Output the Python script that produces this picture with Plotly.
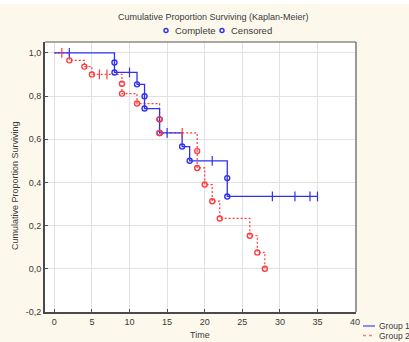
import plotly.graph_objects as go

# ---- data ----
g1_time = [0, 8, 8, 11, 12, 12, 14, 14, 17, 18, 23, 23]
g1_surv = [1.0, 0.955, 0.909, 0.854, 0.799, 0.742, 0.692, 0.629, 0.566, 0.500, 0.420, 0.335]
g1_cens = [2, 10, 15, 21, 29, 32, 34, 35]

g2_time = [0, 2, 4, 5, 9, 9, 11, 14, 14, 19, 19, 20, 21, 22, 26, 27, 28]
g2_surv = [1.0, 0.965, 0.936, 0.900, 0.857, 0.811, 0.765, 0.692, 0.629,
           0.545, 0.467, 0.390, 0.313, 0.233, 0.153, 0.076, 0.0]
g2_cens = [1, 6, 7, 17]

x_ticks = [0, 5, 10, 15, 20, 25, 30, 35, 40]
y_ticks = [-0.2, 0.0, 0.2, 0.4, 0.6, 0.8, 1.0]
y_tick_text = ["-0,2", "0,0", "0,2", "0,4", "0,6", "0,8", "1,0"]

title = "Cumulative Proportion Surviving (Kaplan-Meier)"
x_title = "Time"
y_title = "Cumulative Proportion Surviving"
groups = ["Group 1", "Group 2"]
marker_legend = ["Complete", "Censored"]

BLUE = "#3030f0"
RED = "#ff3b3b"
FONT = "Liberation Sans"
TXT = "#3a3a3a"

W, H = 409, 342
L, R, T, B = 45, 356, 42, 312  # plot area in pixels


def step_value(times, surv, t):
    v = surv[0]
    for ti, si in zip(times, surv):
        if ti <= t:
            v = si
    return v


def px(x):
    return (x - L) / (R - L)


def py(y):
    return (B - y) / (B - T)


fig = go.Figure()

series = [
    (g2_time, g2_surv, g2_cens, RED, "2px,2px"),
    (g1_time, g1_surv, g1_cens, BLUE, "solid"),
]

# step lines (red under blue)
for times, surv, cens, col, dash in series:
    end_t = max(max(cens), max(times))
    fig.add_trace(go.Scatter(
        x=times + [end_t], y=surv + [step_value(times, surv, end_t)],
        mode="lines", line=dict(color=col, width=1.3 if dash == "solid" else 1.2,
                                dash=dash, shape="hv"),
        showlegend=False, hoverinfo="skip"))

# censored ticks and event circles
for times, surv, cens, col, dash in series[::-1]:
    fig.add_trace(go.Scatter(
        x=cens, y=[step_value(times, surv, c) for c in cens],
        mode="markers",
        marker=dict(symbol="line-ns", size=7, line=dict(color=col, width=1.2)),
        showlegend=False, hoverinfo="skip"))
for times, surv, cens, col, dash in series[::-1]:
    fig.add_trace(go.Scatter(
        x=times[1:], y=surv[1:], mode="markers",
        marker=dict(symbol="circle-open", size=5, color=col, line=dict(width=1.4)),
        showlegend=False, hoverinfo="skip"))

shapes = [
    # top white strip of the source page
    dict(type="rect", xref="paper", yref="paper", x0=px(0), x1=px(W),
         y0=py(0), y1=py(4), fillcolor="white", line=dict(width=0), layer="below"),
    # right border (grey, thicker)
    dict(type="line", xref="paper", yref="paper", x0=1, x1=1, y0=0, y1=1,
         line=dict(color="#9a9a9a", width=2)),
    # top border
    dict(type="line", xref="paper", yref="paper", x0=0, x1=1, y0=1, y1=1,
         line=dict(color="#555555", width=1)),
]
annotations = [
    dict(text=title, x=px(213), y=py(17), xref="paper", yref="paper",
         showarrow=False, xanchor="center", yanchor="middle",
         font=dict(family=FONT, size=9, color=TXT)),
    dict(text=y_title, x=px(15), y=py(186), xref="paper", yref="paper",
         showarrow=False, textangle=-90, xanchor="center", yanchor="middle",
         font=dict(family=FONT, size=9, color=TXT)),
    dict(text=x_title, x=px(200), y=py(335), xref="paper", yref="paper",
         showarrow=False, xanchor="center", yanchor="middle",
         font=dict(family=FONT, size=9, color=TXT)),
]

# top legend: Complete / Censored
for (cx, tx), label in zip([(166, 173), (222, 229)], marker_legend):
    shapes.append(dict(type="circle", xref="paper", yref="paper",
                       xsizemode="pixel", ysizemode="pixel",
                       xanchor=px(cx), yanchor=py(30.5),
                       x0=-2, x1=2, y0=-2, y1=2,
                       line=dict(color=BLUE, width=1.4)))
    annotations.append(dict(text=label, x=px(tx), y=py(30.5), xref="paper",
                            yref="paper", showarrow=False, xanchor="left",
                            yanchor="middle",
                            font=dict(family=FONT, size=9.5, color=TXT)))

# bottom-right legend: Group 1 / Group 2
for (yy, col, dash), label in zip([(326, "#6f6ff5", "solid"), (335.5, "#ff7a7a", "dot")], groups):
    shapes.append(dict(type="line", xref="paper", yref="paper",
                       x0=px(363), x1=px(375), y0=py(yy), y1=py(yy),
                       line=dict(color=col, width=1.6, dash=dash)))
    annotations.append(dict(text=label, x=px(377), y=py(yy), xref="paper",
                            yref="paper", showarrow=False, xanchor="left",
                            yanchor="middle",
                            font=dict(family=FONT, size=8.5, color=TXT)))

x_left = -(54.3 - L) / 7.52
x_right = (R - 54.3) / 7.52

fig.update_layout(
    width=W, height=H, autosize=False,
    margin=dict(l=L, r=W - R, t=T, b=H - B, pad=0),
    paper_bgcolor="#fdf8ec", plot_bgcolor="white",
    showlegend=False,
    font=dict(family=FONT, size=9, color=TXT),
    shapes=shapes, annotations=annotations,
    xaxis=dict(range=[x_left, x_right], tickmode="array", tickvals=x_ticks,
               ticktext=[str(v) for v in x_ticks],
               showgrid=True, gridcolor="#e2e2e2", gridwidth=1,
               showline=True, linecolor="#4a4a4a", linewidth=2,
               ticks="inside", ticklen=3, tickcolor="#4a4a4a",
               zeroline=False, tickfont=dict(family=FONT, size=9, color=TXT)),
    yaxis=dict(range=[-0.2, 1.05], tickmode="array", tickvals=y_ticks,
               ticktext=y_tick_text,
               showgrid=True, gridcolor="#e2e2e2", gridwidth=1,
               showline=True, linecolor="#4a4a4a", linewidth=2,
               ticks="inside", ticklen=3, tickcolor="#4a4a4a",
               zeroline=False, tickfont=dict(family=FONT, size=9, color=TXT)),
)

fig.write_html(
    "out.html",
    config={"displayModeBar": False, "staticPlot": True},
    post_script="document.body.style.margin='0';document.body.style.overflow='hidden';",
)
